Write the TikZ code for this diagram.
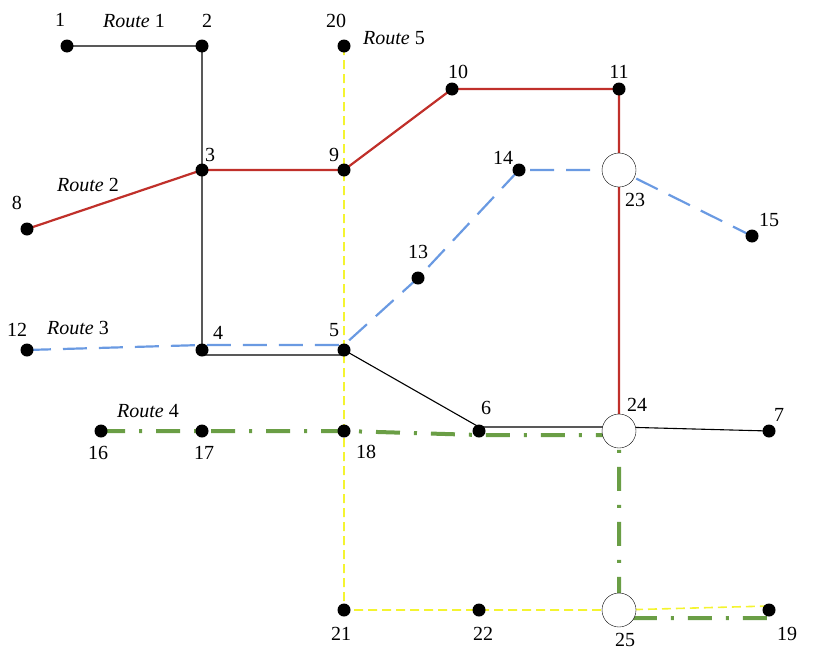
\documentclass[tikz,border=0pt]{standalone}
\usepackage{fontspec}
\setmainfont{Liberation Serif}
\definecolor{rtred}{HTML}{C0302A}
\definecolor{rtblue}{HTML}{6A9AE2}
\definecolor{rtgreen}{HTML}{6A9E45}
\definecolor{rtyellow}{HTML}{F4F430}
\tikzset{
  stop/.style={circle,fill=black,inner sep=0pt,minimum size=13pt},
  hub/.style={circle,draw=black,fill=white,inner sep=0pt,minimum size=34pt},
  lbl/.style={font=\fontsize{20}{22}\selectfont,inner sep=0pt},
  r1/.style={black,line width=1.1pt},
  r2/.style={rtred,line width=2.2pt},
  r3/.style={rtblue,line width=2.2pt,dash pattern=on 24pt off 12pt},
  r4/.style={rtgreen,line width=4pt,dash pattern=on 24pt off 14pt on 3pt off 14pt},
  r5/.style={rtyellow,line width=1.6pt,dash pattern=on 9pt off 5pt},
}
\begin{document}
\begin{tikzpicture}[x=1pt,y=-1pt]
\useasboundingbox (0,0) rectangle (814,656);
% stops
\foreach \n/\x/\y in {1/67/46,2/202/46,20/344/46,10/452/89,11/619/89,3/202/170,9/344/170,
  14/519/170,8/27/229,15/752/236,13/418/278,12/27/350,4/202/350,5/344/350,6/479/431,
  7/769/431,16/101/431,17/202/431,18/344/431,21/344/610,22/479/610,19/769/610}
  \coordinate (n\n) at (\x,\y);
\foreach \n/\x/\y in {23/619/170,24/619/431,25/619/610}
  \coordinate (n\n) at (\x,\y);
% route 5
\draw[r5] (n20) -- (n9) -- (n5) -- (n18) -- (n21) -- (n22) -- (n25) -- ([yshift=4pt]n19);
% route 1
\draw[r1] (n1) -- (n2) -- (n3) -- (n4) -- ([yshift=-5pt]n4) -- ([yshift=-5pt]n5) -- (n5) -- ([yshift=4pt]n6) -- ([yshift=4pt]n24) -- (n7);
% route 2
\draw[r2] (n8) -- (n3) -- (n9) -- (n10) -- (n11) -- (n23) -- (n24);
% route 3
\draw[r3] (n12) -- ([yshift=5pt]n4) -- ([yshift=5pt]n5) -- (n13) -- (n14) -- (n23) -- (n15);
% route 4
\draw[r4] (n16) -- (n17) -- (n18) -- ([yshift=-4pt]n6) -- ([yshift=-4pt]n24) -- (n25) -- ([yshift=-8pt]n25) -- ([yshift=-8pt]n19);
\foreach \n in {1,2,20,10,11,3,9,14,8,15,13,12,4,5,6,7,16,17,18,21,22,19}
  \node[stop] (s\n) at (n\n) {};
\foreach \n in {23,24,25}
  \node[hub] (s\n) at (n\n) {};
% labels
\foreach \n/\x/\y in {1/60/20,2/207/21,20/336/21,10/458/72,11/619/72,3/210/155,9/334/155,
  14/503/158,23/635/200,8/17/203,15/769/220,13/418/252,12/17/330,4/218/333,5/334/330,
  6/486/408,24/637/405,7/779/415,16/98/453,17/204/453,18/366/452,21/341/634,22/483/634,
  25/625/640,19/787/634}
  \node[lbl] (l\n) at (\x,\y) {\n};
\node[lbl] (route1) at (134,21) {\textit{Route} 1};
\node[lbl] (route2) at (88,185) {\textit{Route} 2};
\node[lbl] (route3) at (78,328) {\textit{Route} 3};
\node[lbl] (route4) at (148,411) {\textit{Route} 4};
\node[lbl] (route5) at (394,38) {\textit{Route} 5};
\end{tikzpicture}
\end{document}
